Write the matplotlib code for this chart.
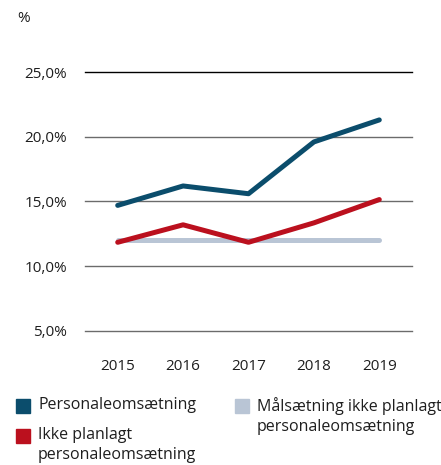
import matplotlib.pyplot as plt
from matplotlib.patches import Rectangle

plt.rcParams['font.family'] = ['Open Sans', 'DejaVu Sans']

years = ["2015", "2016", "2017", "2018", "2019"]
personale = [14.7, 16.2, 15.6, 19.6, 21.3]
ikke_planlagt = [11.85, 13.2, 11.85, 13.35, 15.15]
maal = [12.0, 12.0, 12.0, 12.0, 12.0]
yticks = [5, 10, 15, 20, 25]
ytick_labels = ["5,0%", "10,0%", "15,0%", "20,0%", "25,0%"]

c_blue = "#0b4d6c"
c_red = "#bb101e"
c_grey = "#b9c5d5"

fig = plt.figure(figsize=(4.41, 4.65), dpi=100)
ax = fig.add_axes([85 / 441, 1 - 331 / 465, 327 / 441, 259 / 465])

x = range(len(years))
ax.plot(x, maal, color=c_grey, lw=3.6, solid_capstyle="round", zorder=3)
ax.plot(x, ikke_planlagt, color=c_red, lw=3.6, solid_capstyle="round", zorder=4)
ax.plot(x, personale, color=c_blue, lw=3.6, solid_capstyle="round", zorder=5)

ax.set_xlim(-0.5, 4.5)
ax.set_ylim(5, 25)
ax.set_xticks(list(x))
ax.set_xticklabels(years)
ax.set_yticks(yticks)
ax.set_yticklabels(ytick_labels)
for yv in yticks:
    ax.axhline(yv, color="black" if yv == 25 else "#6b6b6b", lw=1.0, zorder=1,
               clip_on=False)
for s in ax.spines.values():
    s.set_visible(False)
ax.tick_params(length=0, labelsize=11, colors="#1e1e1e")
ax.tick_params(axis="y", pad=13)
ax.tick_params(axis="x", pad=20)

fig.text(17 / 441, 1 - 19 / 465, "%", fontsize=11, color="#1e1e1e", va="center")

# legend drawn by hand
leg = [
    (16, 406, c_blue, "Personaleomsætning"),
    (16, 436, c_red, "Ikke planlagt\npersonaleomsætning"),
    (235, 406, c_grey, "Målsætning ikke planlagt\npersonaleomsætning"),
]
for lx, ly, col, txt in leg:
    fig.patches.append(Rectangle((lx / 441, 1 - (ly + 7) / 465), 14 / 441, 14 / 465,
                                 transform=fig.transFigure, color=col, figure=fig))
    fig.text((lx + 22) / 441, 1 - (ly - 9) / 465, txt, fontsize=11.5, color="#1e1e1e",
             va="top", linespacing=1.3)

fig.savefig("out.png", dpi=100)
